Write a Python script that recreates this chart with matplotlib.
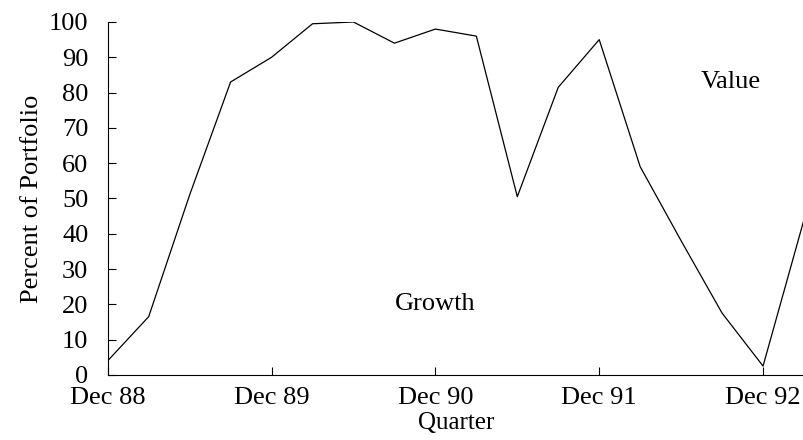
import matplotlib
matplotlib.use("Agg")
import matplotlib.pyplot as plt

quarters = list(range(18))
growth = [4, 16.5, 51, 83, 90, 99.5, 100, 94, 98, 96, 50.5, 81.5, 95, 59, 38, 17.5, 2.5, 44]
tick_pos = [0, 4, 8, 12, 16]
tick_labels = ["Dec 88", "Dec 89", "Dec 90", "Dec 91", "Dec 92"]

plt.rcParams["font.family"] = "Liberation Serif"
fig = plt.figure(figsize=(8.04, 4.40), dpi=100)
ax = fig.add_axes([0.134, 0.148, 0.866, 0.802])
ax.plot(quarters, growth, color="black", linewidth=0.9)
ax.set_xlim(0, 17)
ax.set_ylim(0, 100)
ax.set_yticks(range(0, 101, 10))
ax.set_xticks(tick_pos)
ax.set_xticklabels(tick_labels)
ax.tick_params(direction="in", labelsize=19, length=6)
ax.tick_params(axis="x", pad=9)
ax.tick_params(axis="y", pad=14)
for s in ["top", "right"]:
    ax.spines[s].set_visible(False)
ax.set_xlabel("Quarter", fontsize=18, labelpad=2)
ax.set_ylabel("Percent of Portfolio", fontsize=19, labelpad=4)
ax.text(8, 20, "Growth", fontsize=19, ha="center", va="center")
ax.text(15.2, 83, "Value", fontsize=19, ha="center", va="center")
fig.savefig("out.png")
